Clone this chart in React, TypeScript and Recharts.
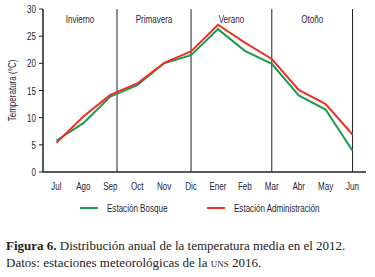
import { LineChart, Line, XAxis, YAxis, ReferenceLine, ReferenceArea, Legend } from 'recharts';

const months = ['Jul', 'Ago', 'Sep', 'Oct', 'Nov', 'Dic', 'Ener', 'Feb', 'Mar', 'Abr', 'May', 'Jun'];
const bosque = [5.8, 9.0, 13.9, 16.0, 20.0, 21.5, 26.3, 22.3, 19.9, 14.1, 11.5, 3.9];
const administracion = [5.4, 10.2, 14.2, 16.3, 20.1, 22.2, 27.1, 23.8, 20.8, 15.1, 12.5, 6.9];
const yTicks = [0, 5, 10, 15, 20, 25, 30];

// season limits in month-index units (Sep line sits near the equinox)
const seasons = [
  { name: 'Invierno', start: -0.5, end: 2.25 },
  { name: 'Primavera', start: 2.25, end: 5 },
  { name: 'Verano', start: 5, end: 8 },
  { name: 'Otoño', start: 8, end: 11 },
];

const data = months.map((m, i) => ({ idx: i, month: m, bosque: bosque[i], admin: administracion[i] }));
const monthTicks = months.map((_, i) => i);
const boundaryTicks = [-0.5, ...months.map((_, i) => i + 0.5)];

const FONT = "'Liberation Sans', Arial, sans-serif";
const SQUEEZE = 0.7;
const GREEN = '#1c9a50';
const RED = '#ee3124';
const INK = '#1f2533';

const series = [
  { key: 'bosque', name: 'Estación Bosque', color: GREEN },
  { key: 'admin', name: 'Estación Administración', color: RED },
];

// narrow text: the original uses a condensed face we don't have
function NarrowText({ x, y, anchor = 'middle', rotate = 0, children }: any) {
  return (
    <text
      transform={`translate(${x},${y}) rotate(${rotate}) scale(${SQUEEZE},1)`}
      textAnchor={anchor}
      fontFamily={FONT}
      fontSize={11.5}
      fill={INK}
    >
      {children}
    </text>
  );
}

const XTick = ({ x, y, payload }: any) => (
  <NarrowText x={x} y={y + 10}>{months[payload.value]}</NarrowText>
);

const YTick = ({ x, y, payload }: any) => (
  <NarrowText x={x - 1} y={y + 4} anchor="end">{payload.value}</NarrowText>
);

const seasonLabel = (name: string) => (props: any) => {
  const vb = props.viewBox || {};
  return <NarrowText x={vb.x + vb.width / 2} y={vb.y + 14}>{name}</NarrowText>;
};

const yLabel = (props: any) => {
  const vb = props.viewBox || {};
  return <NarrowText x={16} y={vb.y + vb.height / 2} rotate={-90}>Temperatura (°C)</NarrowText>;
};

function LegendContent() {
  return (
    <div style={{ display: 'flex', paddingLeft: 80, fontFamily: FONT, fontSize: 11.5, color: INK, lineHeight: '14px' }}>
      {series.map((s, i) => (
        <div key={s.key} style={{ display: 'flex', alignItems: 'center', width: i === 0 ? 127 : 'auto' }}>
          <span style={{ display: 'inline-block', width: 18, height: 2, background: s.color, marginRight: 9 }} />
          <span style={{ display: 'inline-block', transform: `scaleX(${SQUEEZE})`, transformOrigin: 'left center', whiteSpace: 'nowrap' }}>
            {s.name}
          </span>
        </div>
      ))}
    </div>
  );
}

export default function App() {
  return (
    <div style={{ position: 'absolute', left: 0, top: 0, width: 375, height: 277, background: '#fff' }}>
      <LineChart width={375} height={222} data={data} margin={{ top: 9, right: 9, bottom: 6, left: 0 }}>
        <XAxis
          dataKey="idx"
          type="number"
          domain={[-0.5, 11.5]}
          ticks={monthTicks}
          interval={0}
          tickLine={false}
          axisLine={{ stroke: '#222', strokeWidth: 1.5 }}
          tick={<XTick />}
          height={24}
        />
        <XAxis
          xAxisId="marks"
          dataKey="idx"
          type="number"
          domain={[-0.5, 11.5]}
          ticks={boundaryTicks}
          interval={0}
          tick={false}
          tickSize={4}
          tickLine={{ stroke: '#222' }}
          axisLine={false}
          height={0}
        />
        <XAxis
          xAxisId="top"
          orientation="top"
          dataKey="idx"
          type="number"
          domain={[-0.5, 11.5]}
          tick={false}
          tickLine={false}
          axisLine={{ stroke: '#222', strokeWidth: 1.5 }}
          height={0}
        />
        <YAxis
          domain={[0, 30]}
          ticks={yTicks}
          interval={0}
          tickSize={4}
          tickLine={{ stroke: '#222' }}
          axisLine={{ stroke: '#222', strokeWidth: 1.5 }}
          tick={<YTick />}
          width={43}
          label={yLabel}
        />
        <YAxis
          yAxisId="right"
          orientation="right"
          domain={[0, 30]}
          tick={false}
          tickLine={false}
          axisLine={{ stroke: '#222', strokeWidth: 1.5 }}
          width={0}
        />
        {seasons.map((s) => (
          <ReferenceArea
            key={s.name}
            x1={s.start}
            x2={s.end}
            y1={0}
            y2={30}
            fill="none"
            stroke="none"
            label={seasonLabel(s.name)}
          />
        ))}
        {seasons.map((s) => (
          <ReferenceLine key={'l' + s.name} x={s.end} stroke="#222" strokeWidth={1} />
        ))}
        {series.map((s) => (
          <Line key={s.key} dataKey={s.key} name={s.name} stroke={s.color} strokeWidth={2} dot={false} isAnimationActive={false} />
        ))}
        <Legend verticalAlign="bottom" height={20} wrapperStyle={{ bottom: 1 }} content={<LegendContent />} />
      </LineChart>
      <div style={{ fontFamily: "'Liberation Serif', 'DejaVu Serif', serif", fontSize: 13, lineHeight: '17px', color: '#222', paddingLeft: 6, marginTop: 15 }}>
        <div><b>Figura 6.</b> Distribución anual de la temperatura media en el 2012.</div>
        <div>Datos: estaciones meteorológicas de la <span style={{ fontVariant: 'small-caps' }}>uns</span> 2016.</div>
      </div>
    </div>
  );
}
